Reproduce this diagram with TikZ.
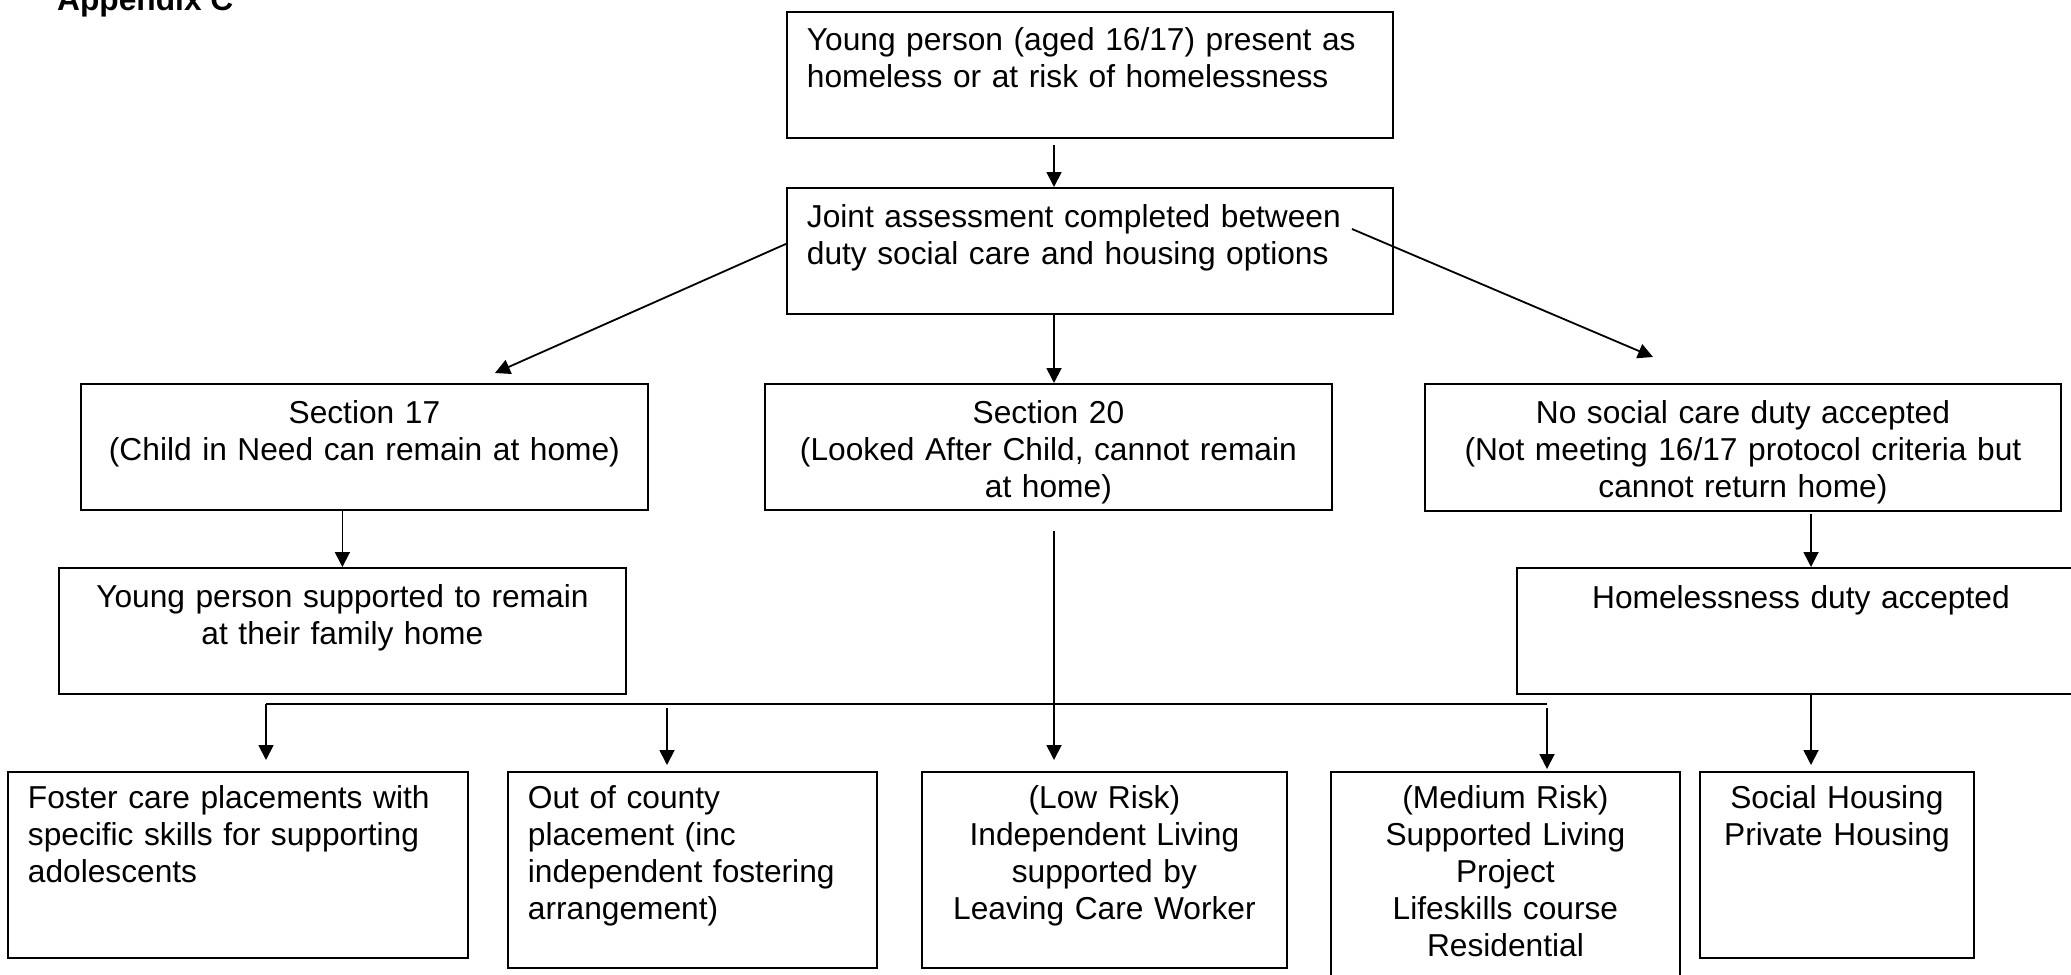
\documentclass[tikz,border=0pt]{standalone}
\usepackage{fontspec}
\setmainfont{Liberation Sans}
\usetikzlibrary{arrows.meta}

\tikzset{
  box/.style={draw, line width=1.8pt, anchor=north west, inner xsep=20pt, inner ysep=0pt, align=left},
  cbox/.style={box, inner xsep=8pt, align=center},
  sized/.style n args={3}{text width=#1, text height=#2, text depth=#3},
  arr/.style={line width=1.8pt, -{Triangle[length=15pt,width=15pt]}},
  link/.style={line width=1.8pt}
}

\begin{document}
\begin{tikzpicture}[x=1pt, y=-1pt, font=\fontsize{31.7}{37}\selectfont]
    \useasboundingbox (0,0) rectangle (2071,974);
    \clip (0,0) rectangle (2071,974);

    % Heading
    \node[anchor=base west, inner sep=0pt] (title) at (57,11) {\bfseries Appendix C};

    % Referral and assessment
    \node[box, sized={566pt}{39pt}{87pt}] (young) at (786,11) {Young person (aged 16/17) present as\\homeless or at risk of homelessness};
    \node[box, sized={566pt}{40pt}{86pt}] (joint) at (786,187) {Joint assessment completed between\\duty social care and housing options};

    % Outcome of the assessment
    \node[cbox, sized={551pt}{40pt}{86pt}] (sec17) at (80,383) {Section 17\\(Child in Need can remain at home)};
    \node[cbox, sized={551pt}{40pt}{86pt}] (sec20) at (764,383) {Section 20\\(Looked After Child, cannot remain\\at home)};
    \node[cbox, sized={620pt}{40pt}{87pt}] (nosocial) at (1424,383) {No social care duty accepted\\(Not meeting 16/17 protocol criteria but\\cannot return home)};
    \node[cbox, sized={551pt}{40pt}{86pt}] (remain) at (58,567) {Young person supported to remain\\at their family home};
    \node[cbox, sized={552pt}{41pt}{85pt}] (homeless) at (1516,567) {Homelessness duty accepted};

    % Placement options
    \node[box, sized={420pt}{37pt}{149pt}] (foster) at (7,771) {Foster care placements with\\specific skills for supporting\\adolescents};
    \node[box, sized={329pt}{37pt}{159pt}] (county) at (507,771) {Out of county\\placement (inc\\independent fostering\\arrangement)};
    \node[cbox, sized={349pt}{37pt}{159pt}] (lowrisk) at (921,771) {(Low Risk)\\Independent Living\\supported by\\Leaving Care Worker};
    \node[cbox, sized={333pt}{37pt}{192pt}] (medium) at (1330,771) {(Medium Risk)\\Supported Living\\Project\\Lifeskills course\\Residential};
    \node[cbox, sized={258pt}{37pt}{149pt}] (housing) at (1699,771) {Social Housing\\Private Housing};

    % Connectors
    \coordinate (mid) at (1054,0);
    \coordinate (hx) at (1811,0);
    \coordinate (s17tip) at (495,373);
    \coordinate (jstart) at (1352,229);
    \coordinate (nstip) at (1653,357);
    \coordinate (hl) at (266,704);
    \coordinate (hb) at (667,704);
    \coordinate (hr) at (1547,704);

    \draw[arr, shorten <=6pt] (young.south -| mid) -- (joint.north -| mid);
    \draw[arr] ([yshift=7pt]joint.west) -- (s17tip);
    \draw[arr] (jstart) -- (nstip);
    \draw[arr] (joint.south -| mid) -- (sec20.north -| mid);
    \draw[arr] (sec17.south -| remain.north) -- (remain.north);
    \draw[arr, shorten <=2pt] (nosocial.south -| hx) -- (homeless.north -| hx);

    \draw[arr, shorten <=20pt, shorten >=11pt] (sec20.south -| mid) -- (lowrisk.north -| mid);
    \draw[link] (hl) -- (hr);
    \draw[arr, shorten >=11pt] (hl) -- (hl |- foster.north);
    \draw[arr, shorten <=4pt, shorten >=6pt] (hb) -- (hb |- county.north);
    \draw[arr, shorten <=4pt, shorten >=2pt] (hr) -- (hr |- medium.north);
    \draw[arr, shorten >=6pt] (homeless.south -| hx) -- (housing.north -| hx);
\end{tikzpicture}
\end{document}
